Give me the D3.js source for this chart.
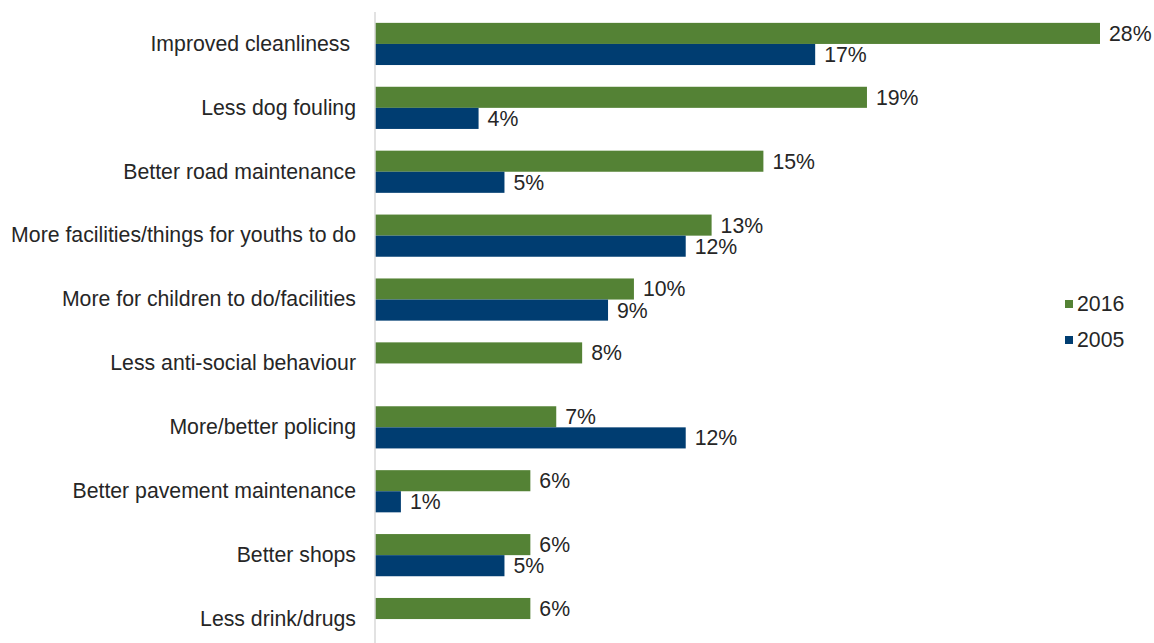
<!DOCTYPE html>
<html>
<head>
<meta charset="utf-8">
<script src="https://cdn.jsdelivr.net/npm/d3@7"></script>
<style>
  html, body { margin: 0; padding: 0; background: #fff; }
  svg text { font-family: "Liberation Sans", Arial, sans-serif; fill: #262626; }
</style>
</head>
<body>
<svg id="chart" width="1154" height="643"></svg>
<script>
// Priorities for improving the local area, share of respondents (%)
const categories = [
  "Improved cleanliness ",
  "Less dog fouling",
  "Better road maintenance",
  "More facilities/things for youths to do",
  "More for children to do/facilities",
  "Less anti-social behaviour",
  "More/better policing",
  "Better pavement maintenance",
  "Better shops",
  "Less drink/drugs"
];
const values2016 = [28, 19, 15, 13, 10, 8, 7, 6, 6, 6];
const values2005 = [17, 4, 5, 12, 9, null, 12, 1, 5, null];
const seriesNames = ["2016", "2005"];
const seriesColors = ["#548235", "#003d71"];

const svg = d3.select("#chart");
const x0 = 375;
const fontSize = 21.25;

const x = d3.scaleLinear().domain([0, 28]).range([x0, 1100]);
const y = d3.scaleBand().domain(categories).range([12, 651]).paddingInner(0.34).paddingOuter(0.17);
const ySub = d3.scaleBand().domain(seriesNames).range([0, y.bandwidth()]);

const rows = categories.map((c, i) => ({
  cat: c,
  vals: [
    { s: "2016", v: values2016[i] },
    { s: "2005", v: values2005[i] }
  ].filter(d => d.v !== null)
}));

const groups = svg.append("g").selectAll("g")
  .data(rows).join("g")
  .attr("transform", d => `translate(0,${y(d.cat)})`);

groups.selectAll("rect")
  .data(d => d.vals).join("rect")
  .attr("x", x(0))
  .attr("y", d => ySub(d.s))
  .attr("width", d => x(d.v) - x(0))
  .attr("height", ySub.bandwidth())
  .attr("fill", d => seriesColors[seriesNames.indexOf(d.s)]);

groups.selectAll("text.val")
  .data(d => d.vals).join("text")
  .attr("class", "val")
  .attr("x", d => x(d.v) + 9)
  .attr("y", d => ySub(d.s) + ySub.bandwidth() / 2)
  .attr("dy", "0.35em")
  .attr("font-size", fontSize)
  .text(d => d.v + "%");

// Category axis on the left
const axis = svg.append("g")
  .attr("transform", `translate(${x0},0)`)
  .call(d3.axisLeft(y).tickSize(0).tickPadding(19));
axis.select(".domain").attr("stroke", "#d9d9d9").attr("stroke-width", 1.5)
  .attr("d", `M0,12V651`);
axis.selectAll(".tick text")
  .attr("font-size", fontSize)
  .attr("fill", "#262626")
  .style("white-space", "pre")
  .style("font-family", "'Liberation Sans', Arial, sans-serif");

// Legend
const legend = svg.append("g").attr("transform", "translate(1065,304)");
seriesNames.forEach((s, i) => {
  const g = legend.append("g").attr("transform", `translate(0,${i * 36})`);
  g.append("rect").attr("x", 0).attr("y", -4).attr("width", 8).attr("height", 8)
    .attr("fill", seriesColors[i]);
  g.append("text").attr("x", 12).attr("y", 0).attr("dy", "0.35em")
    .attr("font-size", fontSize).text(s);
});
</script>
</body>
</html>
